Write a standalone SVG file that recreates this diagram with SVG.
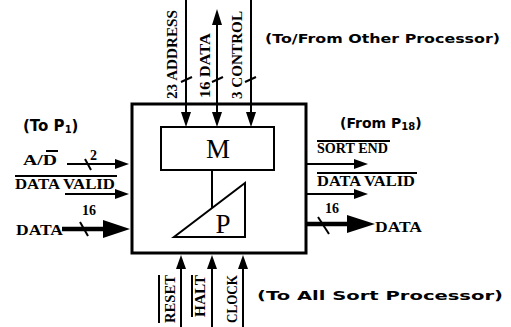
<svg xmlns="http://www.w3.org/2000/svg" width="511" height="327" viewBox="0 0 511 327">
<style>
.ln{stroke:#000;stroke-width:2;fill:none}
.thk{stroke:#000;stroke-width:4.5;fill:none}
.ah{fill:#000}
.lb{font-family:"Liberation Serif",serif;font-weight:bold;font-size:14px;fill:#000}
.pl{font-family:"DejaVu Sans",sans-serif;font-weight:bold;font-size:13px;fill:#000}
.sm{font-family:"Liberation Serif",serif;font-weight:bold;font-size:14px;fill:#000}
.big{font-family:"Liberation Serif",serif;font-size:27px;fill:#000}
.sub{font-size:10px}
</style>
<rect width="511" height="327" fill="#fff"/>
<g id="processor">
<rect x="132" y="104" width="174" height="149" fill="none" stroke="#000" stroke-width="3"/>
</g>
<g id="M">
<rect x="161" y="127" width="113" height="43" fill="none" stroke="#000" stroke-width="2"/>
<text class="big" x="218" y="158" text-anchor="middle">M</text>
</g>
<g id="P">
<polygon points="245,183 245,237 174,237" fill="none" stroke="#000" stroke-width="2"/>
<text class="big" x="223" y="233" text-anchor="middle">P</text>
</g>
<g id="connectors">
<line class="ln" x1="212" y1="170" x2="212" y2="208"/>
<line class="ln" x1="186" y1="0" x2="186" y2="114"/>
<polygon class="ah" points="181,112 191,112 186,127"/>
<line class="ln" x1="181" y1="82" x2="192" y2="77"/>
<line class="ln" x1="217" y1="22" x2="217" y2="114"/>
<polygon class="ah" points="212,112 222,112 217,127"/>
<polygon class="ah" points="212,25 222,25 217,9"/>
<line class="ln" x1="212" y1="82" x2="223" y2="77"/>
<line class="ln" x1="251" y1="0" x2="251" y2="114"/>
<polygon class="ah" points="246,112 256,112 251,127"/>
<line class="ln" x1="245" y1="82" x2="256" y2="77"/>
<line class="ln" x1="67" y1="164" x2="118" y2="164"/>
<polygon class="ah" points="115,159 115,169 129,164"/>
<line class="ln" x1="85" y1="159" x2="91" y2="170"/>
<line class="ln" x1="65" y1="194" x2="118" y2="194"/>
<polygon class="ah" points="115,189 115,199 129,194"/>
<line class="thk" x1="62" y1="229" x2="106" y2="229"/>
<polygon class="ah" points="103,220 103,238 130,229"/>
<line class="ln" x1="80" y1="222" x2="88" y2="236"/>
<line class="ln" x1="306" y1="164" x2="357" y2="164"/>
<polygon class="ah" points="354,159 354,169 368,164"/>
<line class="ln" x1="306" y1="194" x2="357" y2="194"/>
<polygon class="ah" points="354,189 354,199 368,194"/>
<line class="thk" x1="306" y1="224" x2="350" y2="224"/>
<polygon class="ah" points="347,215 347,233 375,224"/>
<line class="ln" x1="318" y1="217" x2="329" y2="234"/>
<line class="ln" x1="181" y1="266" x2="181" y2="327"/>
<polygon class="ah" points="176,269 186,269 181,255"/>
<line class="ln" x1="212" y1="266" x2="212" y2="327"/>
<polygon class="ah" points="207,269 217,269 212,255"/>
<line class="ln" x1="243" y1="266" x2="243" y2="327"/>
<polygon class="ah" points="238,269 248,269 243,255"/>
</g>
<g id="labels">
<text class="lb" transform="translate(177,99) rotate(-90)" textLength="89" lengthAdjust="spacingAndGlyphs">23 ADDRESS</text>
<text class="lb" transform="translate(210,98) rotate(-90)" textLength="65" lengthAdjust="spacingAndGlyphs">16 DATA</text>
<text class="lb" transform="translate(242,99) rotate(-90)" textLength="88" lengthAdjust="spacingAndGlyphs">3 CONTROL</text>
<text class="pl" x="265" y="43" textLength="235" lengthAdjust="spacingAndGlyphs">(To/From Other Processor)</text>
<text class="pl" x="23" y="131" style="font-size:15px">(To P<tspan class="sub" dy="2">1</tspan><tspan dy="-2">)</tspan></text>
<text class="lb" x="23" y="165" textLength="34" lengthAdjust="spacingAndGlyphs">A/D</text>
<line class="ln" x1="46" y1="151" x2="58" y2="151" stroke-width="1.5"/>
<text class="sm" x="90" y="160">2</text>
<line class="ln" x1="15" y1="176" x2="117" y2="176" stroke-width="1.5"/>
<text class="lb" x="15" y="189" textLength="100" lengthAdjust="spacingAndGlyphs">DATA VALID</text>
<text class="sm" x="82" y="215">16</text>
<text class="lb" x="16" y="235" textLength="47" lengthAdjust="spacingAndGlyphs">DATA</text>
<text class="pl" x="340" y="128" style="font-size:14px">(From P<tspan class="sub" dy="2">18</tspan><tspan dy="-2">)</tspan></text>
<line class="ln" x1="317" y1="141" x2="390" y2="141" stroke-width="1.5"/>
<text class="lb" x="317" y="153" textLength="71" lengthAdjust="spacingAndGlyphs">SORT END</text>
<line class="ln" x1="317" y1="173" x2="417" y2="173" stroke-width="1.5"/>
<text class="lb" x="317" y="186" textLength="98" lengthAdjust="spacingAndGlyphs">DATA VALID</text>
<text class="sm" x="325" y="213">16</text>
<text class="lb" x="375" y="232" textLength="47" lengthAdjust="spacingAndGlyphs">DATA</text>
<text class="lb" transform="translate(175,323) rotate(-90)" textLength="48" lengthAdjust="spacingAndGlyphs">RESET</text>
<line class="ln" x1="159" y1="275" x2="159" y2="323" stroke-width="1.5"/>
<text class="lb" transform="translate(205,317) rotate(-90)" textLength="42" lengthAdjust="spacingAndGlyphs">HALT</text>
<line class="ln" x1="192" y1="275" x2="192" y2="317" stroke-width="1.5"/>
<text class="lb" transform="translate(237,323) rotate(-90)" textLength="48" lengthAdjust="spacingAndGlyphs">CLOCK</text>
<text class="pl" x="257" y="300" textLength="246" lengthAdjust="spacingAndGlyphs">(To All Sort Processor)</text>
</g>
</svg>
